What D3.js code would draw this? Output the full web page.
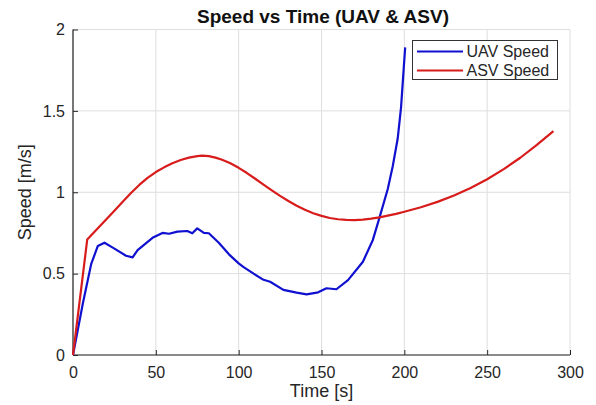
<!DOCTYPE html>
<html>
<head>
<meta charset="utf-8">
<script src="https://cdn.jsdelivr.net/npm/d3@7/dist/d3.min.js"></script>
<style>
  html, body { margin: 0; padding: 0; background: #fff; }
  svg { display: block; font-family: "Liberation Sans", Arial, sans-serif; }
</style>
</head>
<body>
<svg id="chart" width="596" height="405"></svg>
<script>
const chartTitle = "Speed vs Time (UAV & ASV)";
const xLabel = "Time [s]";
const yLabel = "Speed [m/s]";
const seriesNames = ["UAV Speed", "ASV Speed"];
const xTicks = [0, 50, 100, 150, 200, 250, 300];
const yTicks = [0, 0.5, 1, 1.5, 2];

const uavTime  = [0, 6, 11, 15, 19, 24, 32, 36, 39, 48, 54, 58, 63, 69, 72, 75, 79, 82, 88, 94, 100, 103, 109, 115, 119, 127, 135, 141, 148, 153, 159, 166, 175, 181, 185, 190, 193, 196, 198, 200.5];
const uavSpeed = [0, 0.32, 0.56, 0.67, 0.69, 0.66, 0.61, 0.60, 0.645, 0.72, 0.75, 0.745, 0.758, 0.762, 0.748, 0.778, 0.75, 0.748, 0.69, 0.62, 0.563, 0.54, 0.50, 0.462, 0.45, 0.40, 0.383, 0.373, 0.385, 0.41, 0.404, 0.46, 0.573, 0.707, 0.844, 1.02, 1.16, 1.33, 1.52, 1.89];

const asvTime  = [0, 8.6, 15, 20, 25, 30, 35, 40, 45, 50, 55, 60, 65, 70, 75, 78, 82, 86, 90, 95, 100, 105, 110, 115, 120, 125, 130, 135, 140, 145, 150, 155, 160, 165, 170, 175, 180, 185, 190, 195, 200, 210, 220, 230, 240, 250, 260, 270, 280, 290];
const asvSpeed = [0, 0.71, 0.779, 0.833, 0.887, 0.941, 0.995, 1.045, 1.088, 1.124, 1.153, 1.178, 1.198, 1.213, 1.222, 1.225, 1.222, 1.213, 1.20, 1.178, 1.15, 1.118, 1.083, 1.047, 1.012, 0.978, 0.946, 0.917, 0.892, 0.871, 0.855, 0.842, 0.834, 0.83, 0.829, 0.832, 0.838, 0.846, 0.856, 0.867, 0.88, 0.908, 0.941, 0.980, 1.026, 1.080, 1.142, 1.212, 1.291, 1.375];

const colors = ["#1010d0", "#d81c1c"];

const svg = d3.select("#chart");
const margin = { left: 73, right: 26, top: 29.5, bottom: 50 };
const W = 596, H = 405;
const x = d3.scaleLinear().domain([0, 300]).range([margin.left, W - margin.right]);
const y = d3.scaleLinear().domain([0, 2]).range([H - margin.bottom, margin.top]);
const textColor = "#262626";

// grid
const grid = svg.append("g");
grid.selectAll("line.gx").data(xTicks).join("line")
  .attr("x1", d => x(d)).attr("x2", d => x(d))
  .attr("y1", y(0)).attr("y2", y(2))
  .attr("stroke", "#dedede").attr("stroke-width", 1);
grid.selectAll("line.gy").data(yTicks).join("line")
  .attr("x1", x(0)).attr("x2", x(300))
  .attr("y1", d => y(d)).attr("y2", d => y(d))
  .attr("stroke", "#dedede").attr("stroke-width", 1);

// axes
const xAxis = d3.axisBottom(x).tickValues(xTicks).tickSize(-5).tickPadding(12).tickFormat(d3.format("d"));
const yAxis = d3.axisLeft(y).tickValues(yTicks).tickSize(-5).tickPadding(12).tickFormat(d => d3.format("")(d));

const gx = svg.append("g").attr("transform", `translate(0,${y(0)})`).call(xAxis);
const gy = svg.append("g").attr("transform", `translate(${x(0)},0)`).call(yAxis);
[gx, gy].forEach(g => {
  g.select(".domain").attr("stroke", textColor).attr("stroke-width", 1.2);
  g.selectAll(".tick line").attr("stroke", textColor);
  g.selectAll(".tick text").attr("fill", textColor).attr("font-size", 16)
    .attr("font-family", "Liberation Sans, Arial, sans-serif");
});
gx.select(".domain").attr("d", `M${x(0)},0H${x(300)}`);
gy.select(".domain").attr("d", `M0,${y(0)}V${y(2)}`);
gy.selectAll(".tick text").attr("x", -8);

// lines
const line = d3.line().x(d => x(d[0])).y(d => y(d[1])).curve(d3.curveLinear);
const uav = uavTime.map((t, i) => [t, uavSpeed[i]]);
const asv = asvTime.map((t, i) => [t, asvSpeed[i]]);
svg.append("path").datum(uav).attr("d", line)
  .attr("fill", "none").attr("stroke", colors[0]).attr("stroke-width", 2.2).attr("stroke-linejoin", "round");
svg.append("path").datum(asv).attr("d", line)
  .attr("fill", "none").attr("stroke", colors[1]).attr("stroke-width", 2.2).attr("stroke-linejoin", "round");

// title
svg.append("text").attr("x", 323).attr("y", 23).attr("text-anchor", "middle")
  .attr("font-size", 19).attr("font-weight", "bold").attr("fill", "#111").text(chartTitle);

// axis labels
svg.append("text").attr("x", x(150)).attr("y", 397).attr("text-anchor", "middle")
  .attr("font-size", 18).attr("fill", textColor).text(xLabel);
svg.append("text").attr("transform", `translate(31,${(y(0) + y(2)) / 2}) rotate(-90)`)
  .attr("text-anchor", "middle").attr("font-size", 18).attr("fill", textColor).text(yLabel);

// legend
const lg = svg.append("g");
lg.append("rect").attr("x", 412.5).attr("y", 40.5).attr("width", 145).attr("height", 39)
  .attr("fill", "#fff").attr("stroke", "#333").attr("stroke-width", 1);
seriesNames.forEach((name, i) => {
  const yy = 51.5 + i * 19;
  lg.append("line").attr("x1", 417).attr("x2", 463).attr("y1", yy).attr("y2", yy)
    .attr("stroke", colors[i]).attr("stroke-width", 2.2);
  lg.append("text").attr("x", 466.5).attr("y", yy + 5.5).attr("font-size", 16)
    .attr("fill", textColor).text(name);
});
</script>
</body>
</html>
